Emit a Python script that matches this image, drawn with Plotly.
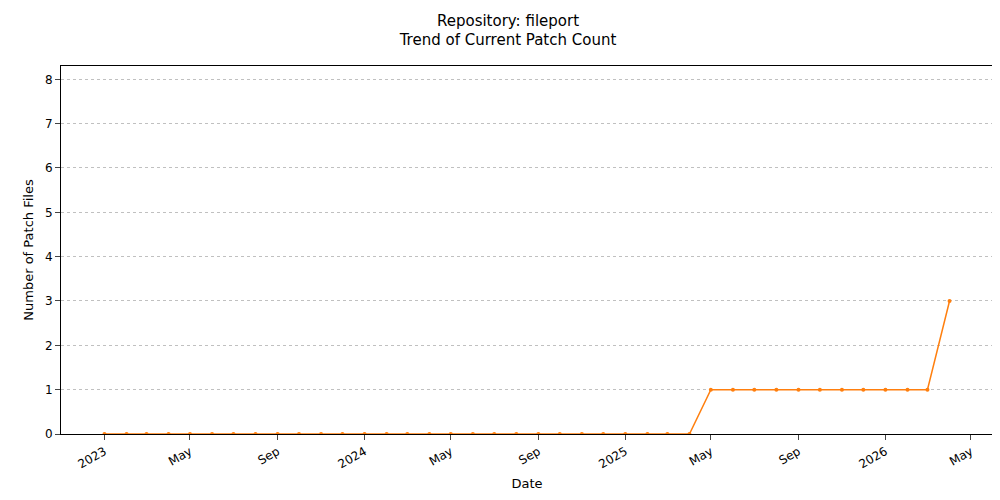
import plotly.graph_objects as go
import pandas as pd

dates = pd.date_range("2023-01-01", "2026-04-01", freq="MS")
values = [0]*28 + [1]*11 + [3]
tick_dates = ["2023-01-01","2023-05-01","2023-09-01","2024-01-01","2024-05-01","2024-09-01",
              "2025-01-01","2025-05-01","2025-09-01","2026-01-01","2026-05-01"]
tick_labels = ["2023","May","Sep","2024","May","Sep","2025","May","Sep","2026","May"]

fig = go.Figure(go.Scatter(x=dates, y=values, mode="lines+markers",
                           line=dict(color="#ff7f0e", width=1.5),
                           marker=dict(size=4, color="#ff7f0e")))
fig.update_layout(
    width=1000, height=500, plot_bgcolor="white", paper_bgcolor="white",
    margin=dict(l=53, r=15, t=58, b=74),
    font=dict(family="DejaVu Sans", size=12, color="black"),
    title=dict(text="Repository: fileport<br>Trend of Current Patch Count", x=0.5, xanchor="center",
               y=0.965, yanchor="top", font=dict(size=15)),
    showlegend=False,
)
fig.update_xaxes(range=["2022-11-01", "2026-06-01"], tickvals=tick_dates, ticktext=tick_labels,
                 tickangle=-30, showgrid=False, showline=True, linecolor="black", mirror=True,
                 ticks="outside", automargin=False, title=dict(text="Date", font=dict(size=13), standoff=8))
fig.update_yaxes(range=[0, 8.3], dtick=1, showgrid=True, gridcolor="#c0c0c0", griddash="dot",
                 gridwidth=0.6, showline=True, linecolor="black", mirror=True, ticks="outside",
                 automargin=False, zeroline=False, title=dict(text="Number of Patch Files", font=dict(size=13), standoff=8))
fig.write_html("out.html")
